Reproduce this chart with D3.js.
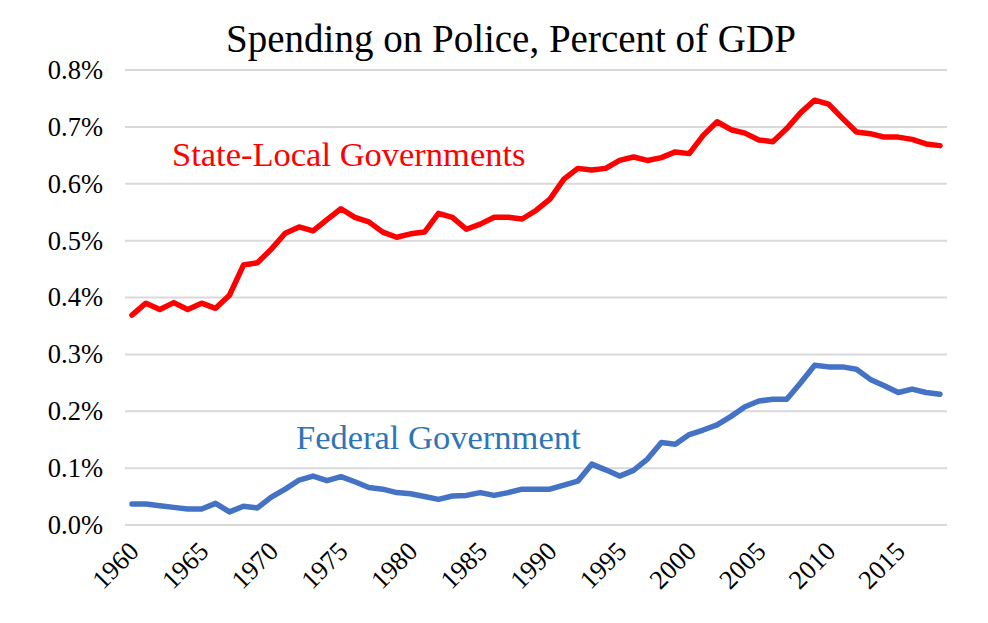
<!DOCTYPE html>
<html>
<head>
<meta charset="utf-8">
<script src="https://cdn.jsdelivr.net/npm/d3@7"></script>
<style>
  html, body { margin: 0; padding: 0; background: #fff; }
  svg { display: block; }
</style>
</head>
<body>
<svg id="chart" width="988" height="623"></svg>
<script>
const years = d3.range(1960, 2019);
const stateLocal = [
  0.369, 0.390, 0.379, 0.391, 0.379, 0.390, 0.381, 0.404, 0.457, 0.461,
  0.485, 0.513, 0.524, 0.517, 0.537, 0.556, 0.541, 0.533, 0.515, 0.506,
  0.512, 0.515, 0.548, 0.541, 0.520, 0.529, 0.541, 0.541, 0.538, 0.553,
  0.573, 0.608, 0.627, 0.624, 0.627, 0.641, 0.647, 0.641, 0.646, 0.656,
  0.653, 0.685, 0.709, 0.695, 0.689, 0.677, 0.674, 0.697, 0.725, 0.747,
  0.740, 0.715, 0.691, 0.688, 0.682, 0.682, 0.678, 0.670, 0.667
];
const federal = [
  0.037, 0.037, 0.034, 0.031, 0.028, 0.028, 0.038, 0.023, 0.033, 0.030,
  0.049, 0.063, 0.079, 0.086, 0.078, 0.085, 0.076, 0.066, 0.063, 0.057,
  0.055, 0.050, 0.045, 0.051, 0.052, 0.057, 0.052, 0.057, 0.063, 0.063,
  0.063, 0.070, 0.077, 0.107, 0.097, 0.086, 0.096, 0.116, 0.145, 0.142,
  0.159, 0.167, 0.176, 0.191, 0.208, 0.218, 0.221, 0.221, 0.250, 0.281,
  0.278, 0.278, 0.274, 0.256, 0.245, 0.233, 0.239, 0.233, 0.230
];
const yTicks = [0, 0.1, 0.2, 0.3, 0.4, 0.5, 0.6, 0.7, 0.8];
const xTickYears = [1960, 1965, 1970, 1975, 1980, 1985, 1990, 1995, 2000, 2005, 2010, 2015];
const title = "Spending on Police, Percent of GDP";
const seriesLabels = ["State-Local Governments", "Federal Government"];

const FONT = '"Liberation Serif", "Times New Roman", Tinos, serif';
const svg = d3.select("#chart");
const plotLeft = 125, plotRight = 947, plotTop = 70, plotBottom = 525;

const x = d3.scalePoint().domain(years).range([plotLeft, plotRight]).padding(0.5);
const y = d3.scaleLinear().domain([0, 0.8]).range([plotBottom, plotTop]);

// gridlines
svg.append("g").selectAll("line").data(yTicks).join("line")
  .attr("x1", plotLeft).attr("x2", plotRight)
  .attr("y1", d => y(d)).attr("y2", d => y(d))
  .attr("stroke", "#d9d9d9").attr("stroke-width", 2);

// y axis labels
const yAxis = d3.axisLeft(y).tickValues(yTicks).tickSize(0).tickPadding(0)
  .tickFormat(d => d.toFixed(1) + "%");
const yg = svg.append("g").attr("transform", `translate(${plotLeft - 22},0)`).call(yAxis);
yg.select(".domain").remove();
yg.selectAll("text").style("font-family", FONT)
  .attr("font-size", 26.5).attr("fill", "#000");

// x axis labels
const xAxis = d3.axisBottom(x).tickValues(xTickYears).tickSize(0).tickPadding(0);
const xg = svg.append("g").attr("transform", `translate(0,${plotBottom})`).call(xAxis);
xg.select(".domain").remove();
xg.selectAll("text")
  .style("font-family", FONT)
  .attr("font-size", 26.5).attr("fill", "#000")
  .attr("text-anchor", "end")
  .attr("dy", null)
  .attr("transform", "translate(8,28) rotate(-45)");

// lines
const line = d3.line().x((d, i) => x(years[i])).y(d => y(d));
svg.append("path").datum(stateLocal)
  .attr("fill", "none").attr("stroke", "#ff0000").attr("stroke-width", 5.5)
  .attr("stroke-linejoin", "round").attr("stroke-linecap", "round")
  .attr("d", line);
svg.append("path").datum(federal)
  .attr("fill", "none").attr("stroke", "#4472c4").attr("stroke-width", 5.5)
  .attr("stroke-linejoin", "round").attr("stroke-linecap", "round")
  .attr("d", line);

// title
svg.append("text").attr("x", 511).attr("y", 52).attr("text-anchor", "middle")
  .style("font-family", FONT)
  .attr("font-size", 39).attr("fill", "#000").text(title);

// series labels
svg.append("text").attr("x", 172).attr("y", 166)
  .style("font-family", FONT)
  .attr("font-size", 34.5).attr("fill", "#ff0000").text(seriesLabels[0]);
svg.append("text").attr("x", 296).attr("y", 449)
  .style("font-family", FONT)
  .attr("font-size", 34.5).attr("fill", "#2e75b6").text(seriesLabels[1]);
</script>
</body>
</html>
